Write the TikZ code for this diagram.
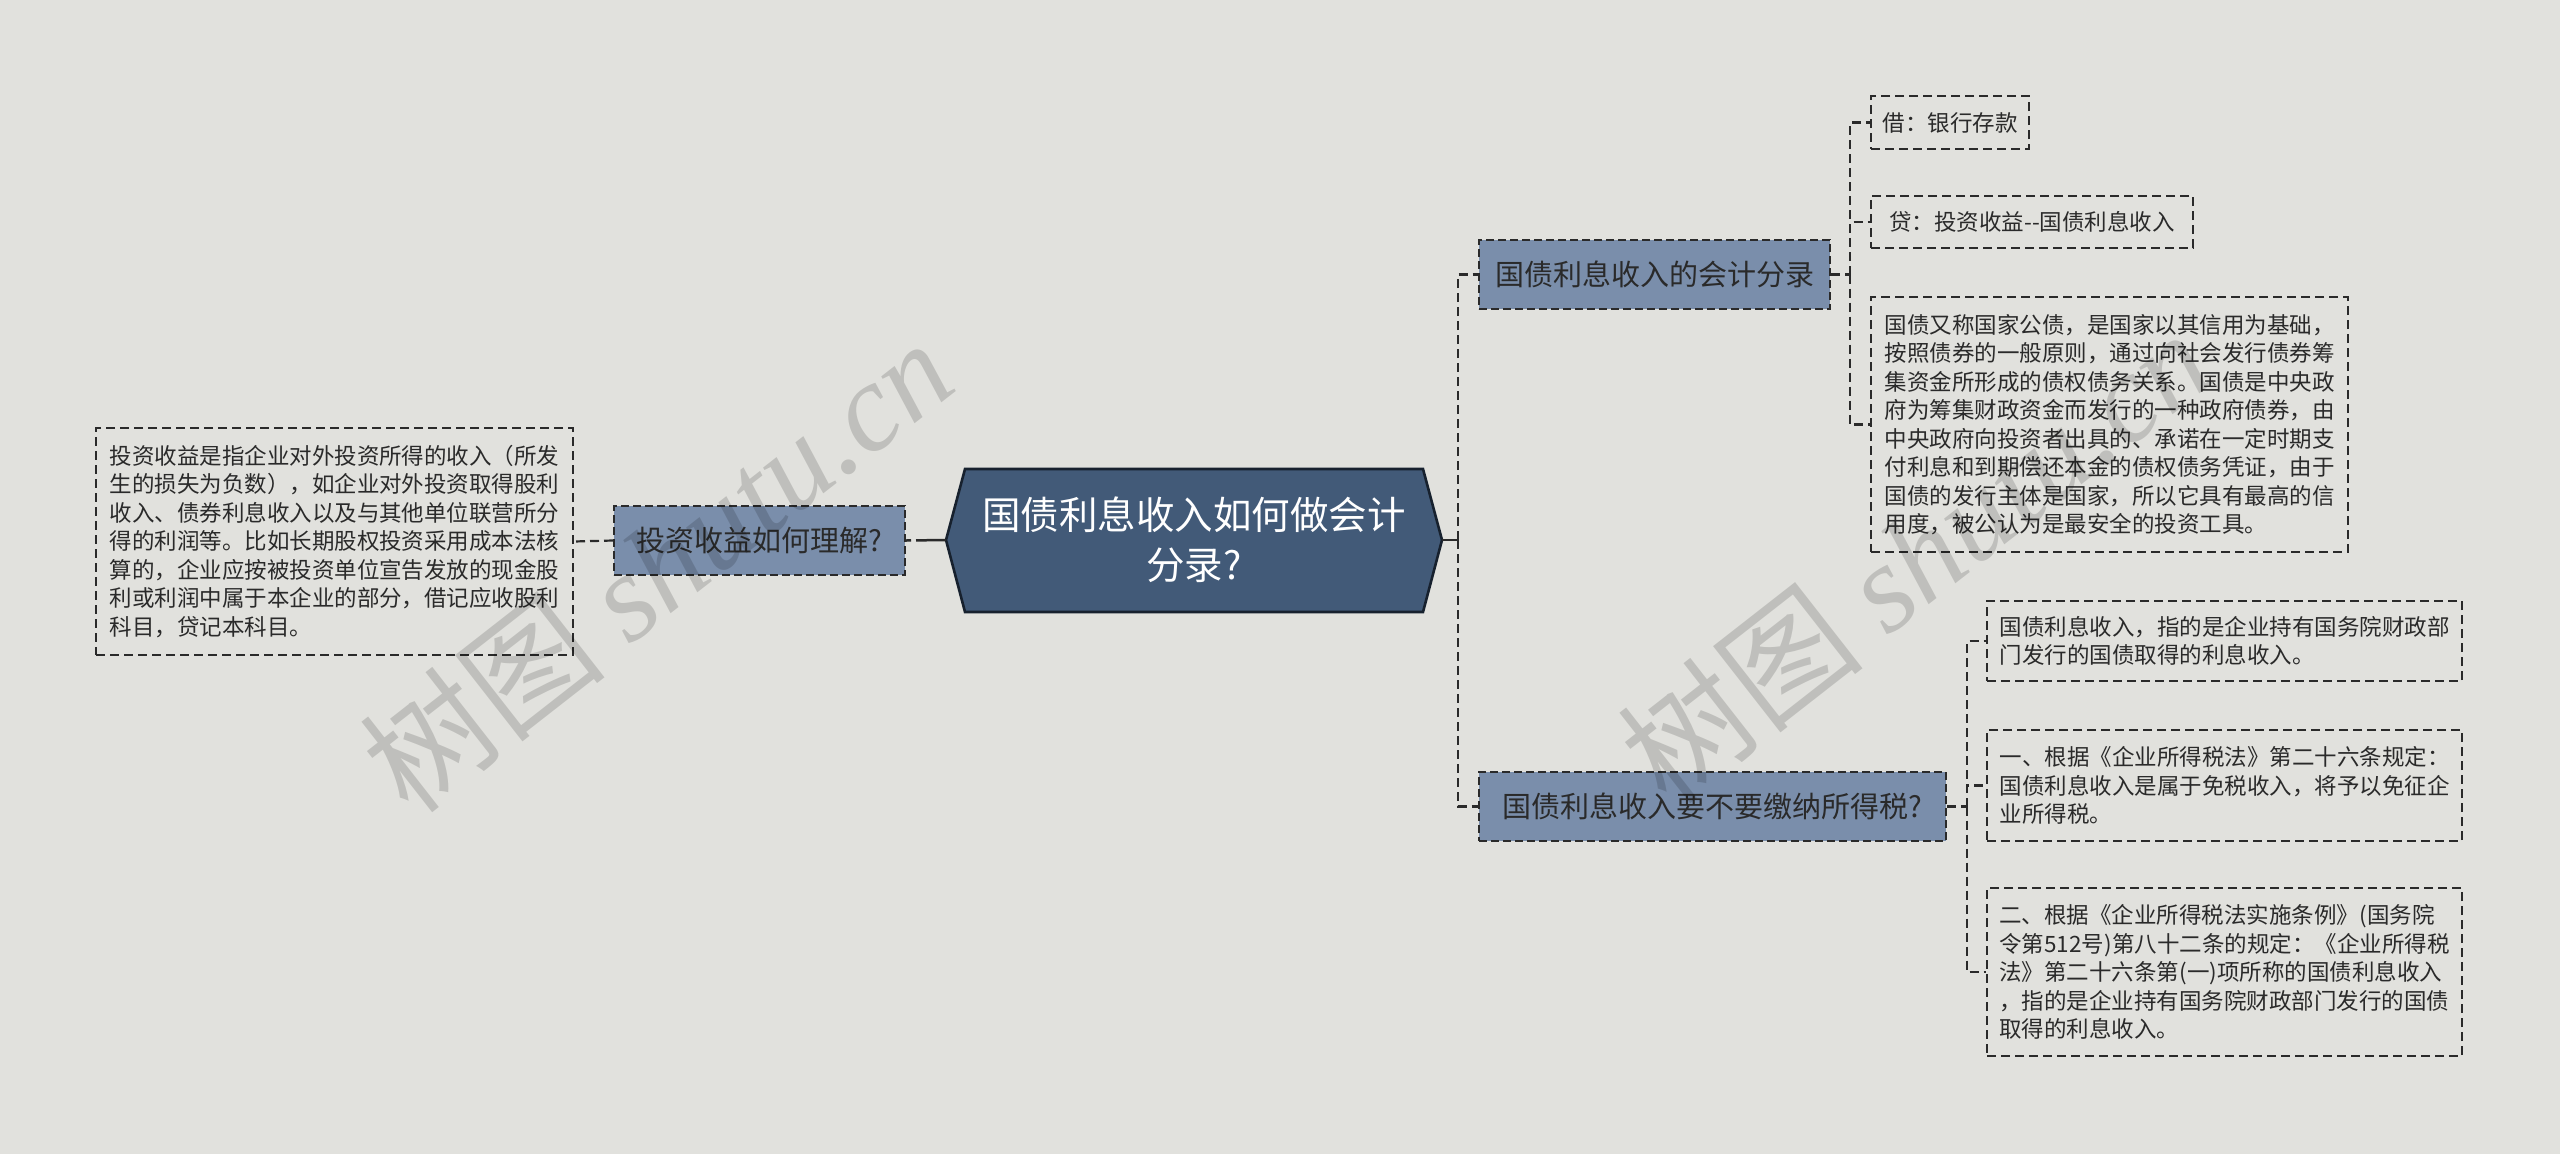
\documentclass[tikz,border=0pt]{standalone}
\usepackage{fontspec}
\setmainfont{Noto Sans CJK SC}
\newfontfamily\wmfont{Liberation Serif}
\usetikzlibrary{calc}
\definecolor{bgc}{HTML}{E1E1DD}
\definecolor{rootfill}{HTML}{425A78}
\definecolor{rootline}{HTML}{17212E}
\definecolor{brfill}{HTML}{7A8EAB}
\definecolor{linec}{HTML}{2A2A2A}
\definecolor{txt}{HTML}{2A2A2A}
\begin{document}
\begin{tikzpicture}[x=1pt,y=-1pt,
  leafbox/.style={draw=linec, line width=1.7pt, dash pattern=on 9pt off 5pt, align=left, inner sep=0pt, text=txt, font=\fontsize{22.5pt}{28.5pt}\selectfont},
  branchbox/.style={draw=linec, fill=brfill, line width=2pt, dash pattern=on 8pt off 4pt, inner sep=0pt, text=txt, font=\fontsize{29pt}{35pt}\selectfont, minimum height=69pt},
  link/.style={draw=linec, line width=2.2pt, dash pattern=on 9pt off 5pt},
  wmark/.style={rotate=38, text=black, opacity=0.15, inner sep=0pt, font=\fontsize{125pt}{125pt}\selectfont}
]
% background
\fill[bgc] (0,0) rectangle (2560,1154);
\useasboundingbox (0,0) rectangle (2560,1154);

% root hexagon
\draw[fill=rootfill, draw=rootline, line width=2.6pt, line join=miter]
  (965,469) -- (1423,469) -- (1442,540) -- (1423,612) -- (965,612) -- (946,540) -- cycle;
\node[inner sep=0pt, minimum width=458pt, minimum height=143pt, align=center, text=white,
  font=\fontsize{38.5pt}{50pt}\selectfont] (root) at (1194,540) {国债利息收入如何做会计\\分录?};
\coordinate (rootW) at (946,540);
\coordinate (rootE) at (1442,540);

% branches
\node[branchbox, minimum width=291pt] (m) at (759.5,540.5) {投资收益如何理解?};
\node[branchbox, minimum width=351pt] (b1) at (1654.5,274.5) {国债利息收入的会计分录};
\node[branchbox, minimum width=467pt] (b2) at (1712.5,806.5) {国债利息收入要不要缴纳所得税?};

% left leaf
\node[leafbox, minimum width=477pt, minimum height=227pt] (lb) at (334.5,541.5) {投资收益是指企业对外投资所得的收入（所发\\生的损失为负数），如企业对外投资取得股利\\收入、债券利息收入以及与其他单位联营所分\\得的利润等。比如长期股权投资采用成本法核\\算的，企业应按被投资单位宣告发放的现金股\\利或利润中属于本企业的部分，借记应收股利\\科目，贷记本科目。};

% branch 1 leaves
\node[leafbox, minimum width=158pt, minimum height=53pt] (l1) at (1950,122.5) {借：银行存款};
\node[leafbox, minimum width=322pt, minimum height=52pt] (l2) at (2032,222) {贷：投资收益-{}-国债利息收入};
\node[leafbox, minimum width=477pt, minimum height=255pt] (l3) at (2109.5,424.5) {国债又称国家公债，是国家以其信用为基础，\\按照债券的一般原则，通过向社会发行债券筹\\集资金所形成的债权债务关系。国债是中央政\\府为筹集财政资金而发行的一种政府债券，由\\中央政府向投资者出具的、承诺在一定时期支\\付利息和到期偿还本金的债权债务凭证，由于\\国债的发行主体是国家，所以它具有最高的信\\用度，被公认为是最安全的投资工具。};

% branch 2 leaves
\node[leafbox, minimum width=475pt, minimum height=80pt] (r1) at (2224.5,641) {国债利息收入，指的是企业持有国务院财政部\\门发行的国债取得的利息收入。};
\node[leafbox, minimum width=475pt, minimum height=111pt] (r2) at (2224.5,785.5) {一、根据《企业所得税法》第二十六条规定：\\国债利息收入是属于免税收入，将予以免征企\\业所得税。};
\node[leafbox, minimum width=475pt, minimum height=168pt] (r3) at (2224.5,972) {二、根据《企业所得税法实施条例》(国务院\\令第512号)第八十二条的规定：《企业所得税\\法》第二十六条第(一)项所称的国债利息收入\\，指的是企业持有国务院财政部门发行的国债\\取得的利息收入。};

% connectors
\coordinate (tr) at (1458,540);
\coordinate (t1) at (1850,274.5);
\coordinate (t2) at (1967,806.5);
\draw[draw=linec, line width=2.5pt, dash pattern=on 30pt off 5pt] (rootW) -- (m.east);
\draw[link] (m.west) -- (lb.east);
\draw[draw=linec, line width=2.5pt] (rootE) -- (tr);
\draw[link] (tr) |- (b1.west);
\draw[link] (tr) |- (b2.west);
\draw[link] (b1.east) -- (t1);
\draw[link] (t1) |- (l1.west);
\draw[link] (t1) |- (l2.west);
\draw[link] (t1) |- (l3.west);
\draw[link] (b2.east) -- (t2);
\draw[link] (t2) |- (r1.west);
\draw[link] (t2) |- (r2.west);
\draw[link] (t2) |- (r3.west);

% watermarks
\node[wmark] (wm1) at (656,565) {树图 {\wmfont\itshape shutu.cn}};
\node[wmark] (wm2) at (1914,556) {树图 {\wmfont\itshape shutu.cn}};
\end{tikzpicture}
\end{document}
